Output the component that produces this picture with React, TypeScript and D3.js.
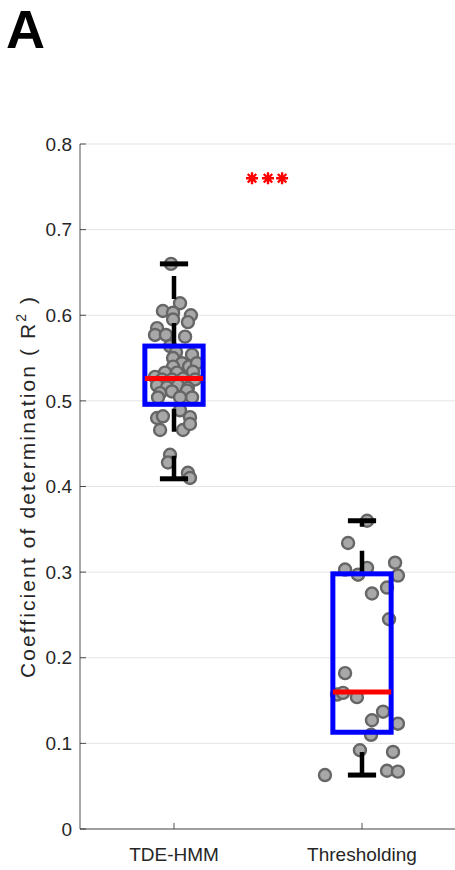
import React from 'react';
import * as d3 from 'd3';

const width = 455;
const height = 870;
const margin = { top: 144, right: 0, bottom: 41, left: 80 };

const categories = ['TDE-HMM', 'Thresholding'];
const yTicks = [0, 0.1, 0.2, 0.3, 0.4, 0.5, 0.6, 0.7, 0.8];

// box stats
const q1 = [0.496, 0.113];
const q3 = [0.564, 0.298];
const medians = [0.526, 0.16];
const whiskerLow = [0.409, 0.063];
const whiskerHigh = [0.66, 0.36];

// individual subjects: value + horizontal jitter (category units)
const hmmValues = [
  0.66, 0.614, 0.605, 0.603, 0.6, 0.592, 0.595, 0.585, 0.577, 0.577, 0.575, 0.564,
  0.557, 0.55, 0.554, 0.544, 0.54, 0.54, 0.544, 0.533, 0.533, 0.534, 0.528, 0.525,
  0.525, 0.526, 0.525, 0.518, 0.516, 0.518, 0.515, 0.509, 0.511, 0.512, 0.504, 0.504,
  0.504, 0.489, 0.48, 0.482, 0.481, 0.466, 0.466, 0.473, 0.437, 0.428, 0.416, 0.41,
];
const hmmJitter = [
  -0.016, 0.032, -0.059, -0.005, 0.09, 0.074, -0.005, -0.09, -0.101, -0.043, 0.059, -0.021,
  0.011, -0.005, 0.096, 0.043, 0.08, -0.005, 0.122, -0.048, 0.016, 0.101, -0.101, -0.064,
  -0.011, 0.048, 0.112, -0.09, -0.037, 0.021, 0.074, -0.074, -0.011, 0.069, 0.096, 0.032,
  -0.085, 0.032, -0.09, -0.059, 0.085, -0.074, 0.048, 0.085, -0.021, -0.032, 0.074, 0.085,
];
const thrValues = [
  0.36, 0.334, 0.303, 0.297, 0.305, 0.311, 0.296, 0.275, 0.282, 0.245, 0.182, 0.157,
  0.159, 0.154, 0.137, 0.127, 0.123, 0.11, 0.092, 0.09, 0.063, 0.068, 0.067,
];
const thrJitter = [
  0.027, -0.074, -0.09, -0.021, 0.027, 0.176, 0.191, 0.053, 0.133, 0.144, -0.09, -0.133,
  -0.101, -0.027, 0.112, 0.053, 0.191, 0.048, -0.011, 0.165, -0.197, 0.133, 0.191,
];

const starX = [-0.085, 0, 0.075];
const starY = 0.76;

const font = '"Liberation Sans", Arial, Helvetica, sans-serif';

export default function App() {
  const innerW = 456 - margin.left;
  const innerH = height - margin.top - margin.bottom;
  const x = d3.scaleLinear().domain([0.5, 2.5]).range([margin.left, margin.left + innerW]);
  const y = d3.scaleLinear().domain([0, 0.8]).range([margin.top + innerH, margin.top]);

  const groups = [
    { values: hmmValues, jitter: hmmJitter },
    { values: thrValues, jitter: thrJitter },
  ];
  const boxHalf = 0.155;
  const capHalf = 0.075;

  const star = (cx: number, cy: number, r: number) => {
    const p = d3.path();
    for (let k = 0; k < 4; k++) {
      const a = (k * Math.PI) / 4;
      p.moveTo(cx - r * Math.cos(a), cy - r * Math.sin(a));
      p.lineTo(cx + r * Math.cos(a), cy + r * Math.sin(a));
    }
    return p.toString();
  };

  const yMid = (y(0) + y(0.8)) / 2;

  return (
    <svg
      width={width}
      height={height}
      style={{ position: 'absolute', left: 0, top: 0, background: '#fff' }}
      fontFamily={font}
    >
      <text x={6} y={48} fontSize={54} fontWeight="bold" fill="#000">A</text>

      {yTicks.map((t) => (
        <g key={t}>
          <line x1={x(0.5)} x2={x(2.5)} y1={y(t)} y2={y(t)} stroke="#e3e3e3" strokeWidth={1} />
          <line x1={x(0.5)} x2={x(0.5) + 6} y1={y(t)} y2={y(t)} stroke="#262626" strokeWidth={0.8} />
          <text x={72} y={y(t)} dy="0.35em" textAnchor="end" fontSize={19} fill="#262626">
            {t}
          </text>
        </g>
      ))}

      {/* dots */}
      {groups.map((g, gi) =>
        g.values.map((v, i) => (
          <circle
            key={`${gi}-${i}`}
            cx={x(gi + 1 + g.jitter[i])}
            cy={y(v)}
            r={6}
            fill="#a8a8a8"
            stroke="#666666"
            strokeWidth={2.4}
          />
        ))
      )}

      {/* boxes */}
      {categories.map((c, i) => {
        const cx = i + 1;
        return (
          <g key={c}>
            <line
              x1={x(cx)} x2={x(cx)} y1={y(q3[i])} y2={y(whiskerHigh[i])}
              stroke="#000" strokeWidth={4.5} strokeDasharray="23 24"
            />
            <line
              x1={x(cx)} x2={x(cx)} y1={y(whiskerLow[i])} y2={y(q1[i])}
              stroke="#000" strokeWidth={4.5} strokeDasharray="23 24"
            />
            <line
              x1={x(cx - capHalf)} x2={x(cx + capHalf)} y1={y(whiskerHigh[i])} y2={y(whiskerHigh[i])}
              stroke="#000" strokeWidth={5}
            />
            <line
              x1={x(cx - capHalf)} x2={x(cx + capHalf)} y1={y(whiskerLow[i])} y2={y(whiskerLow[i])}
              stroke="#000" strokeWidth={5}
            />
            <rect
              x={x(cx - boxHalf)}
              y={y(q3[i])}
              width={x(cx + boxHalf) - x(cx - boxHalf)}
              height={y(q1[i]) - y(q3[i])}
              fill="none"
              stroke="#0000ff"
              strokeWidth={5}
            />
            <line
              x1={x(cx - boxHalf)} x2={x(cx + boxHalf)} y1={y(medians[i])} y2={y(medians[i])}
              stroke="#ff0000" strokeWidth={5}
            />
          </g>
        );
      })}

      {/* significance */}
      {starX.map((s) => (
        <path key={s} d={star(x(1.5 + s), y(starY), 6)} stroke="#ff0000" strokeWidth={2.4} />
      ))}

      {/* axes */}
      <line x1={x(0.5)} x2={x(0.5)} y1={y(0)} y2={y(0.8)} stroke="#262626" strokeWidth={0.8} />
      <line x1={x(0.5)} x2={x(2.5)} y1={y(0)} y2={y(0)} stroke="#262626" strokeWidth={0.8} />
      {categories.map((c, i) => (
        <g key={c}>
          <line x1={x(i + 1)} x2={x(i + 1)} y1={y(0)} y2={y(0) - 6} stroke="#262626" strokeWidth={0.8} />
          <text x={x(i + 1)} y={y(0) + 32} textAnchor="middle" fontSize={19} fill="#262626">
            {c}
          </text>
        </g>
      ))}

      <text
        transform={`translate(35,${yMid}) rotate(-90)`}
        textAnchor="middle"
        fontSize={21}
        letterSpacing={2.1}
        fill="#262626"
      >
        Coefficient of determination ( R
        <tspan fontSize={14} dy={-9}>2</tspan>
        <tspan dy={9}> )</tspan>
      </text>
    </svg>
  );
}
